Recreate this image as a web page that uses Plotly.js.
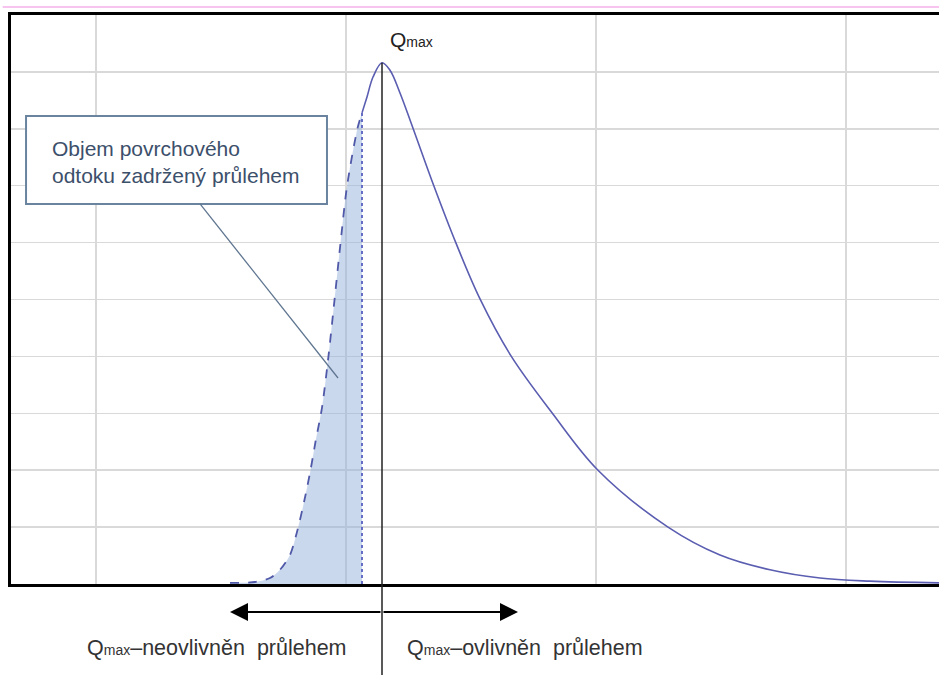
<!DOCTYPE html>
<html>
<head>
<meta charset="utf-8">
<script src="https://cdn.plot.ly/plotly-3.0.1.min.js"></script>
<style>html,body{margin:0;padding:0;background:#fff;}#chart{width:939px;height:677px;}</style>
</head>
<body>
<div id="chart"></div>
<script>
// Rising limb of the hydrograph retained by the swale (dashed, filled)
const riseT = [1.536, 1.636, 1.696, 1.736, 1.776, 1.806, 1.834, 1.858, 1.878, 1.904, 1.930, 1.954, 1.978, 2.004, 2.046, 2.064];
const riseQ = [0.02, 0.035, 0.105, 0.25, 0.51, 0.95, 1.48, 2.0, 2.5, 3.1, 4.01, 4.99, 5.99, 6.99, 8.01, 8.28];
// Hydrograph from the start of the solid part onwards
const flowT = [2.064, 2.084, 2.108, 2.144, 2.176, 2.216, 2.268, 2.352, 2.440, 2.536, 2.660, 2.824, 3.008, 3.288, 3.496, 3.696, 3.896, 4.096, 4.372];
const flowQ = [8.28, 8.56, 8.91, 9.16, 9.03, 8.63, 8.01, 6.99, 5.99, 5.01, 4.01, 3.01, 2.00, 1.00, 0.51, 0.25, 0.105, 0.05, 0.02];
const labelQmax = 'Q<span style="font-size:14px">max</span>';
const labelLeft = 'Q<span style="font-size:14px">max</span>\u2013neovlivněn  průlehem';
const labelRight = 'Q<span style="font-size:14px">max</span>\u2013ovlivněn  průlehem';
const calloutText = 'Objem povrchového<br>odtoku zadržený průlehem';

const qMax = Math.max(...flowQ);
const tPeak = flowT[flowQ.indexOf(qMax)];
const tCut = riseT[riseT.length - 1];
const qCut = riseQ[riseQ.length - 1];
const xRange = [0.66, 4.372];

const traces = [
  {x: riseT, y: riseQ, mode: 'lines', fill: 'tozeroy', fillcolor: 'rgba(150,178,222,0.5)',
   line: {color: '#5059a8', width: 1.8, dash: 'dash', shape: 'spline', smoothing: 0.8}, hoverinfo: 'skip'},
  {x: [tCut, tCut], y: [0, qCut], mode: 'lines', line: {color: '#5a60c0', width: 1.8, dash: 'dot'}, hoverinfo: 'skip'},
  {x: flowT, y: flowQ, mode: 'lines', line: {color: '#5a5db0', width: 1.6, shape: 'spline', smoothing: 1}, hoverinfo: 'skip'}
];

const layout = {
  width: 939, height: 677,
  margin: {l: 11, r: 0, t: 15, b: 93},
  paper_bgcolor: '#ffffff', plot_bgcolor: '#ffffff',
  showlegend: false,
  font: {family: '"Liberation Sans", Arial, sans-serif', color: '#333333'},
  xaxis: {range: xRange, dtick: 1, tick0: 0, showticklabels: false, ticks: '',
          showgrid: true, gridcolor: '#d9d9d9', gridwidth: 1.5, zeroline: false,
          showline: true, linecolor: '#000000', linewidth: 3, mirror: true},
  yaxis: {range: [0, 10], dtick: 1, showticklabels: false, ticks: '',
          showgrid: true, gridcolor: '#d9d9d9', gridwidth: 1.5, zeroline: false,
          showline: true, linecolor: '#000000', linewidth: 3},
  shapes: [
    {type: 'line', xref: 'x', yref: 'y', x0: tPeak, x1: tPeak, y0: 0, y1: qMax, line: {color: '#222222', width: 1.5}},
    {type: 'line', xref: 'x', yref: 'paper', x0: tPeak, x1: tPeak, y0: 0, y1: -0.16, line: {color: '#222222', width: 1.5}},
    {type: 'line', xref: 'paper', yref: 'paper', x0: -0.009, x1: 1, y0: 1.014, y1: 1.014, line: {color: '#f5b0ea', width: 1.5}},
    {type: 'rect', xref: 'paper', yref: 'paper', x0: 0.0162, x1: 0.3405, y0: 0.668, y1: 0.8225,
     line: {color: '#6a84a0', width: 2}, fillcolor: '#ffffff'},
    {type: 'line', xref: 'paper', yref: 'paper', x0: 0.2037, y0: 0.668, x1: 0.3524, y1: 0.362,
     line: {color: '#5f7590', width: 1.3}}
  ],
  annotations: [
    {xref: 'paper', yref: 'paper', x: 0.042, y: 0.742, xanchor: 'left', yanchor: 'middle', align: 'left',
     text: calloutText, showarrow: false, font: {size: 21, color: '#3c4f6b'}},
    {xref: 'x', yref: 'y', x: tPeak, y: qMax, xanchor: 'left', yanchor: 'bottom', xshift: 6, yshift: 10,
     text: labelQmax, showarrow: false, font: {size: 21, color: '#222222'}},
    {xref: 'x', yref: 'paper', x: riseT[0], y: -0.049, ax: tPeak, axref: 'x', ay: 0, ayref: 'pixel',
     text: '', showarrow: true, arrowhead: 2, arrowsize: 1.8, arrowwidth: 2, arrowcolor: '#000000'},
    {xref: 'x', yref: 'paper', x: 2.688, y: -0.049, ax: tPeak, axref: 'x', ay: 0, ayref: 'pixel',
     text: '', showarrow: true, arrowhead: 2, arrowsize: 1.8, arrowwidth: 2, arrowcolor: '#000000'},
    {xref: 'x', yref: 'paper', x: tPeak, y: -0.1125, xanchor: 'right', yanchor: 'middle', xshift: -33,
     text: labelLeft, showarrow: false, font: {size: 21.5, color: '#333333'}},
    {xref: 'x', yref: 'paper', x: tPeak, y: -0.1125, xanchor: 'left', yanchor: 'middle', xshift: 23,
     text: labelRight, showarrow: false, font: {size: 21.5, color: '#333333'}}
  ]
};

Plotly.newPlot('chart', traces, layout, {staticPlot: true, displayModeBar: false});
</script>
</body>
</html>
